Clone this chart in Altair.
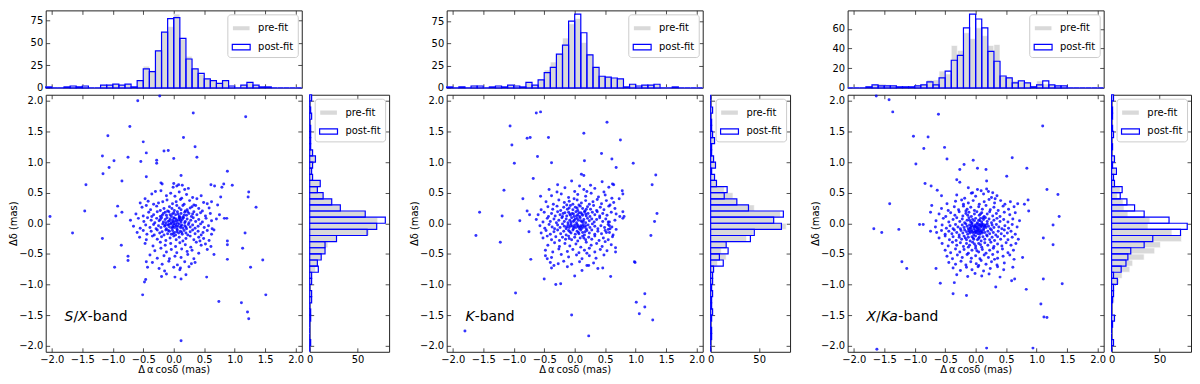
import altair as alt
import numpy as np
import pandas as pd

FONT = "DejaVu Sans"
BLUE = "#0000ff"
GRAY = "#d9d9d9"

# ---------------- histogram bins (0.1 mas wide, -2.1 .. 2.1) ----------------
BIN_LO = -2.1
BIN_W = 0.1
N_BINS = 42

# ---------------- histogram counts ----------------
sx_top_post = [1, 0, 0, 1, 2, 1, 2, 0, 0, 3, 3, 4, 3, 4, 1, 8, 21, 18, 41, 62, 77,
               78, 55, 32, 21, 16, 10, 8, 5, 8, 2, 0, 3, 6, 3, 1, 1, 0, 0, 0, 0, 0]
sx_top_pre = [1, 0, 0, 1, 2, 1, 2, 0, 0, 3, 3, 4, 3, 4, 1, 8, 24, 19, 41, 62, 68,
              82, 54, 35, 21, 15, 10, 8, 5, 8, 2, 0, 3, 6, 3, 1, 1, 0, 0, 0, 0, 0]
sx_side_post = [0, 1, 0, 0, 0, 1, 1, 0, 2, 2, 0, 2, 2, 9, 8, 12, 16, 16, 28, 60, 70,
                79, 58, 32, 23, 14, 8, 11, 3, 2, 3, 6, 3, 1, 1, 1, 1, 0, 2, 1, 0, 2]
sx_side_pre = [0, 1, 0, 0, 0, 1, 1, 0, 2, 2, 0, 2, 2, 6, 8, 12, 16, 19, 28, 62, 70,
               71, 58, 32, 23, 14, 8, 11, 3, 2, 3, 6, 3, 1, 1, 1, 1, 0, 2, 1, 0, 2]

k_top_post = [1, 0, 1, 0, 2, 2, 0, 1, 2, 1, 3, 2, 1, 6, 3, 9, 17, 23, 38, 48, 75,
              83, 62, 37, 23, 13, 12, 11, 10, 1, 4, 2, 3, 3, 4, 0, 0, 1, 0, 0, 0, 0]
k_top_pre = [1, 0, 1, 0, 3, 2, 0, 1, 2, 1, 3, 2, 1, 6, 3, 9, 20, 29, 38, 56, 72,
             78, 51, 38, 23, 13, 12, 11, 10, 1, 4, 2, 3, 3, 4, 0, 0, 1, 0, 0, 0, 0]
k_side_post = [0, 0, 1, 1, 0, 1, 2, 1, 1, 2, 1, 2, 2, 3, 13, 9, 18, 16, 41, 45, 73,
               65, 75, 39, 27, 14, 17, 6, 4, 1, 5, 3, 1, 1, 4, 2, 1, 1, 0, 2, 0, 0]
k_side_pre = [0, 0, 1, 1, 0, 1, 2, 1, 1, 2, 1, 2, 2, 3, 7, 16, 11, 16, 37, 44, 78,
              65, 72, 45, 27, 23, 14, 6, 4, 1, 5, 3, 1, 1, 4, 2, 1, 1, 0, 2, 0, 0]

xka_top_post = [0, 0, 0, 1, 3, 2, 2, 2, 1, 1, 1, 2, 3, 6, 3, 10, 17, 28, 33, 61, 75,
                70, 61, 37, 27, 12, 10, 5, 7, 5, 1, 3, 7, 3, 2, 2, 0, 0, 0, 0, 0, 0]
xka_top_pre = [0, 0, 0, 1, 3, 4, 3, 2, 1, 1, 1, 2, 4, 8, 8, 17, 14, 43, 38, 56, 50,
               61, 53, 43, 44, 12, 11, 7, 6, 5, 2, 7, 4, 3, 2, 1, 0, 0, 0, 0, 0, 0]
xka_side_post = [0, 2, 0, 0, 1, 3, 0, 0, 1, 2, 2, 6, 2, 10, 15, 17, 20, 34, 43, 72, 79,
                 60, 34, 24, 16, 9, 11, 3, 2, 5, 1, 3, 0, 1, 0, 2, 1, 0, 1, 1, 0, 2]
xka_side_pre = [0, 2, 0, 0, 1, 3, 0, 0, 3, 3, 3, 8, 11, 19, 22, 34, 45, 51, 73, 63, 38,
                40, 17, 13, 12, 6, 9, 3, 2, 4, 1, 3, 0, 1, 0, 2, 1, 0, 1, 1, 0, 2]

# ---------------- scatter points (post-fit offsets, mas) ----------------
sx_xy = [
    (-0.23, 2.08), (-0.59, 2.0), (0.32, 1.80), (1.18, 1.74), (-1.08, 1.43), (-0.72, 1.58), (0.16, 1.40),
    (-0.50, 1.33), (0.35, 1.25), (-0.45, 1.15), (-0.16, 1.18), (-0.09, 1.19), (0.0, 1.06), (0.38, 1.08),
    (-1.17, 1.10), (-0.98, 1.02), (-0.75, 1.08), (-0.54, 1.01), (-0.28, 1.03), (-0.28, 0.98), (-1.06, 0.91),
    (-1.16, 0.81), (-0.45, 0.76), (0.12, 0.78), (0.88, 0.85), (-1.44, 0.63), (-0.85, 0.69), (0.61, 0.63),
    (0.67, 0.61), (0.82, 0.64), (0.96, 0.62), (0.79, 0.59), (1.23, 0.51), (1.22, 0.43), (0.77, 0.43),
    (1.35, 0.26), (-0.92, 0.28), (-1.46, 0.20), (-0.85, 0.18), (-0.95, 0.12), (-2.03, 0.11), (-1.66, -0.16),
    (-1.17, -0.25), (-0.86, -0.36), (-0.75, -0.54), (-0.75, -0.61), (-0.97, -0.72), (-0.45, -0.63),
    (-0.43, -0.72), (-0.46, -0.92), (-0.48, -0.96), (-0.51, -1.17), (0.88, -0.29), (0.88, -0.35),
    (0.83, 0.08), (0.87, 0.08), (1.17, -0.16), (1.13, -0.41), (1.46, -0.60), (1.26, -0.72), (0.88, -0.59),
    (0.66, -0.51), (0.61, -0.38), (0.54, -0.88), (0.12, -0.91), (0.11, -0.73), (0.35, -0.64), (1.51, -1.17),
    (0.74, -1.28), (1.11, -1.30), (1.21, -1.45), (1.23, -1.56), (0.12, -1.92),
    (-0.21, 0.66), (0.0, 0.65), (0.08, 0.63), (0.14, 0.62), (-0.19, 0.64), (0.05, 0.61),
    (-0.01, 0.59), (-0.21, 0.53), (0.18, 0.55), (-0.30, 0.52), (0.09, 0.51), (0.24, 0.57),
    (-0.36, 0.48), (-0.12, 0.45), (0.02, 0.44), (0.21, 0.47), (0.31, 0.42), (0.45, 0.45), (-0.47, 0.40),
    (0.13, 0.41), (-0.05, 0.49), (0.38, 0.40),
    (-0.42, 0.36), (-0.25, 0.33), (-0.11, 0.38), (0.04, 0.35), (0.17, 0.31), (0.26, 0.37), (0.55, 0.32),
    (0.49, 0.34), (-0.33, 0.31), (-0.02, 0.32), (0.11, 0.39), (0.62, 0.35), (-0.18, 0.35), (0.33, 0.30),
    (0.72, 0.30), (-0.55, 0.33),
    (-0.52, 0.26), (-0.38, 0.22), (-0.28, 0.28), (-0.16, 0.24), (-0.07, 0.27), (0.01, 0.21), (0.09, 0.25),
    (0.15, 0.29), (0.22, 0.22), (0.3, 0.27), (0.41, 0.24), (0.47, 0.2), (-0.22, 0.21), (-0.1, 0.2),
    (0.05, 0.29), (0.19, 0.2), (0.36, 0.29), (0.58, 0.25), (-0.45, 0.29), (-0.03, 0.24), (0.12, 0.22),
    (0.27, 0.25),
    (-0.62, 0.15), (-0.5, 0.12), (-0.41, 0.18), (-0.33, 0.14), (-0.27, 0.19), (-0.22, 0.11), (-0.17, 0.16),
    (-0.12, 0.13), (-0.08, 0.19), (-0.04, 0.11), (0.0, 0.17), (0.03, 0.14), (0.06, 0.19), (0.09, 0.12),
    (0.12, 0.16), (0.15, 0.1), (0.18, 0.18), (0.21, 0.13), (0.25, 0.16), (0.29, 0.11), (0.33, 0.19),
    (0.38, 0.14), (0.44, 0.17), (0.52, 0.12), (0.6, 0.16), (0.75, 0.14), (-0.14, 0.18), (-0.02, 0.15),
    (0.07, 0.15), (0.1, 0.1), (-0.06, 0.14), (-0.19, 0.13), (0.23, 0.19), (0.17, 0.13), (-0.36, 0.11),
    (0.31, 0.15),
    (-0.71, 0.05), (-0.58, 0.08), (-0.49, 0.03), (-0.43, 0.09), (-0.37, 0.05), (-0.31, 0.01), (-0.28, 0.08),
    (-0.24, 0.04), (-0.2, 0.09), (-0.17, 0.02), (-0.14, 0.06), (-0.11, 0.09), (-0.09, 0.03), (-0.06, 0.07),
    (-0.04, 0.01), (-0.02, 0.05), (0.0, 0.09), (0.02, 0.03), (0.04, 0.07), (0.06, 0.0), (0.08, 0.05),
    (0.1, 0.08), (0.12, 0.02), (0.14, 0.06), (0.16, 0.09), (0.19, 0.03), (0.22, 0.07), (0.25, 0.01),
    (0.28, 0.05), (0.32, 0.09), (0.36, 0.03), (0.41, 0.06), (0.47, 0.02), (0.53, 0.08), (0.62, 0.04),
    (0.7, 0.07), (-0.13, 0.01), (0.01, 0.08), (-0.07, 0.04), (0.05, 0.04), (0.11, 0.05), (-0.22, 0.06),
    (0.18, 0.01), (-0.01, 0.02), (0.09, 0.09),
    (-0.66, -0.05), (-0.55, -0.08), (-0.46, -0.03), (-0.39, -0.07), (-0.33, -0.02), (-0.29, -0.09),
    (-0.25, -0.04), (-0.21, -0.07), (-0.18, -0.01), (-0.15, -0.05), (-0.12, -0.09), (-0.1, -0.03),
    (-0.07, -0.06), (-0.05, -0.01), (-0.03, -0.08), (-0.01, -0.04), (0.01, -0.07), (0.03, -0.02),
    (0.05, -0.09), (0.07, -0.05), (0.09, -0.01), (0.11, -0.07), (0.13, -0.03), (0.15, -0.08), (0.18, -0.04),
    (0.21, -0.09), (0.24, -0.02), (0.27, -0.06), (0.31, -0.03), (0.35, -0.08), (0.4, -0.05), (0.44, -0.01),
    (0.5, -0.07), (0.57, -0.04), (0.63, -0.09), (-0.08, -0.02), (0.04, -0.05), (-0.02, -0.06), (0.12, -0.05),
    (-0.14, -0.03), (0.2, -0.06), (0.0, -0.01),
    (-0.6, -0.15), (-0.5, -0.12), (-0.44, -0.18), (-0.37, -0.13), (-0.32, -0.19), (-0.27, -0.11),
    (-0.23, -0.16), (-0.19, -0.14), (-0.16, -0.19), (-0.13, -0.11), (-0.1, -0.17), (-0.07, -0.13),
    (-0.04, -0.18), (-0.02, -0.12), (0.01, -0.15), (0.03, -0.19), (0.06, -0.11), (0.08, -0.16), (0.11, -0.13),
    (0.14, -0.18), (0.17, -0.12), (0.2, -0.16), (0.23, -0.19), (0.27, -0.14), (0.31, -0.11), (0.35, -0.17),
    (0.4, -0.13), (0.45, -0.19), (0.48, -0.15), (0.55, -0.12), (0.62, -0.18), (-0.09, -0.12), (0.05, -0.14),
    (-0.01, -0.17), (0.13, -0.15), (0.66, -0.11),
    (-0.56, -0.23), (-0.45, -0.27), (-0.35, -0.21), (-0.27, -0.26), (-0.2, -0.22), (-0.13, -0.28),
    (-0.06, -0.24), (0.0, -0.21), (0.04, -0.27), (0.09, -0.23), (0.15, -0.29), (0.2, -0.25), (0.27, -0.21),
    (0.33, -0.27), (0.41, -0.23), (0.49, -0.25), (0.58, -0.28), (0.43, -0.29),
    (-0.47, -0.33), (-0.34, -0.37), (-0.22, -0.31), (-0.14, -0.36), (-0.05, -0.33), (0.03, -0.38),
    (0.1, -0.32), (0.19, -0.35), (0.28, -0.39), (0.37, -0.31), (0.45, -0.36), (0.52, -0.34),
    (-0.31, -0.45), (-0.21, -0.41), (-0.12, -0.47), (-0.04, -0.43), (0.05, -0.48), (0.13, -0.42),
    (0.22, -0.46), (0.3, -0.44), (0.41, -0.49), (0.55, -0.43),
    (-0.39, -0.52), (-0.27, -0.57), (-0.16, -0.53), (-0.07, -0.58), (0.02, -0.54), (0.12, -0.56),
    (0.23, -0.51), (0.33, -0.58),
    (-0.35, -0.64), (-0.19, -0.67), (-0.08, -0.62), (0.06, -0.68), (0.18, -0.63), (0.29, -0.66),
    (-0.24, -0.74), (-0.15, -0.78), (0.0, -0.72), (0.1, -0.76), (0.25, -0.71),
    (-0.2, -0.87), (-0.12, -0.83), (0.02, -0.88), (0.2, -0.84),
]

k_xy = [
    (-0.63, 1.80), (-0.56, 1.82), (-1.06, 1.59), (0.53, 1.65), (0.15, 1.47), (0.75, 1.36), (-0.78, 1.39),
    (-0.73, 1.40), (-0.43, 1.40), (-1.03, 1.28), (-0.61, 1.09), (0.16, 1.02), (0.44, 1.14), (0.61, 1.05),
    (-0.99, 0.98), (-0.38, 0.99), (0.68, 0.91), (0.96, 0.98), (1.33, 0.79), (1.27, 0.63), (-0.68, 0.73),
    (0.11, 0.80), (0.15, 0.78), (-1.16, 0.54), (-0.85, 0.40), (-0.56, 0.44), (-1.56, 0.18), (-1.19, 0.12),
    (-0.78, 0.20), (-0.74, 0.14), (-0.90, 0.04), (-0.75, -0.14), (-1.62, -0.20), (-1.22, -0.31),
    (-0.72, -0.59), (-0.50, -0.91), (-0.31, -1.00), (-0.23, -0.99), (-0.97, -1.14), (-1.80, -1.76),
    (-0.05, -1.50), (0.23, -1.84), (0.59, -0.87), (0.46, -0.73), (0.23, -0.69), (0.0, -0.86), (0.98, -0.63),
    (0.99, -0.64), (1.01, -1.29), (1.06, -1.48), (1.15, -1.15), (1.15, -1.37), (1.28, -1.58), (1.25, -0.20),
    (1.31, 0.03), (1.35, 0.16), (0.79, 0.19), (0.81, 0.11), (0.79, 0.08), (0.74, 0.11), (0.78, 0.53),
    (0.79, 0.48), (0.73, 0.40), (0.64, 0.63), (0.67, -0.40), (0.67, -0.47), (0.55, 0.02), (0.57, -0.04),
    (0.58, -0.09), (0.52, -0.15),
    (-0.28, 0.63), (-0.05, 0.69), (0.08, 0.61), (0.26, 0.62), (0.45, 0.68), (0.62, 0.64),
    (-0.42, 0.55), (-0.16, 0.58), (0.0, 0.52), (0.15, 0.55), (0.2, 0.52), (0.33, 0.57), (0.48, 0.51),
    (0.56, 0.59), (-0.29, 0.51),
    (-0.38, 0.45), (-0.22, 0.48), (-0.1, 0.42), (0.05, 0.47), (0.18, 0.44), (0.27, 0.49), (0.39, 0.43),
    (0.5, 0.46), (0.61, 0.41), (-0.01, 0.4),
    (-0.47, 0.35), (-0.35, 0.31), (-0.26, 0.38), (-0.17, 0.34), (-0.09, 0.36), (-0.03, 0.31), (0.04, 0.38),
    (0.11, 0.33), (0.18, 0.37), (0.24, 0.31), (0.3, 0.35), (0.37, 0.39), (0.44, 0.32), (0.52, 0.37),
    (0.64, 0.34), (-0.13, 0.3), (0.07, 0.3), (0.58, 0.3),
    (-0.55, 0.22), (-0.44, 0.27), (-0.36, 0.23), (-0.29, 0.28), (-0.23, 0.21), (-0.18, 0.26), (-0.12, 0.23),
    (-0.07, 0.29), (-0.03, 0.22), (0.01, 0.26), (0.05, 0.21), (0.09, 0.28), (0.13, 0.24), (0.17, 0.2),
    (0.21, 0.27), (0.26, 0.23), (0.31, 0.29), (0.36, 0.21), (0.42, 0.26), (0.48, 0.22), (0.56, 0.28),
    (0.66, 0.24), (-0.09, 0.25), (0.19, 0.23), (0.04, 0.25),
    (-0.6, 0.14), (-0.5, 0.18), (-0.43, 0.11), (-0.38, 0.16), (-0.32, 0.12), (-0.28, 0.19), (-0.24, 0.14),
    (-0.2, 0.11), (-0.16, 0.17), (-0.13, 0.12), (-0.1, 0.18), (-0.07, 0.13), (-0.04, 0.16), (-0.01, 0.11),
    (0.02, 0.19), (0.05, 0.14), (0.08, 0.11), (0.1, 0.17), (0.13, 0.13), (0.16, 0.19), (0.19, 0.12),
    (0.22, 0.16), (0.25, 0.11), (0.29, 0.18), (0.33, 0.14), (0.37, 0.19), (0.41, 0.12), (0.46, 0.16),
    (0.53, 0.13), (0.6, 0.18), (0.68, 0.15), (-0.02, 0.15), (0.07, 0.17), (0.12, 0.15), (-0.08, 0.15),
    (0.03, 0.12), (0.18, 0.15), (-0.19, 0.16),
    (-0.63, 0.06), (-0.52, 0.02), (-0.45, 0.08), (-0.4, 0.03), (-0.34, 0.07), (-0.3, 0.01), (-0.26, 0.05),
    (-0.21, 0.09), (-0.17, 0.03), (-0.14, 0.07), (-0.11, 0.01), (-0.08, 0.05), (-0.05, 0.09), (-0.02, 0.03),
    (0.01, 0.07), (0.03, 0.01), (0.06, 0.05), (0.09, 0.09), (0.12, 0.02), (0.15, 0.06), (0.18, 0.01),
    (0.21, 0.08), (0.24, 0.04), (0.28, 0.07), (0.32, 0.02), (0.36, 0.06), (0.41, 0.09), (0.46, 0.03),
    (0.51, 0.07), (0.57, 0.02), (0.66, 0.05), (-0.06, 0.02), (0.04, 0.08), (0.1, 0.04), (-0.01, 0.05),
    (0.14, 0.03),
    (-0.57, -0.04), (-0.49, -0.08), (-0.42, -0.02), (-0.37, -0.06), (-0.33, -0.09), (-0.28, -0.03),
    (-0.24, -0.07), (-0.2, -0.01), (-0.17, -0.05), (-0.14, -0.09), (-0.11, -0.03), (-0.09, -0.07),
    (-0.06, -0.01), (-0.04, -0.05), (-0.02, -0.09), (0.0, -0.03), (0.02, -0.07), (0.04, -0.02), (0.06, -0.06),
    (0.08, -0.09), (0.1, -0.04), (0.12, -0.08), (0.14, -0.02), (0.16, -0.06), (0.19, -0.09), (0.22, -0.03),
    (0.25, -0.07), (0.29, -0.01), (0.33, -0.05), (0.38, -0.09), (0.43, -0.04), (0.49, -0.07), (0.55, -0.02),
    (0.61, -0.06), (0.68, -0.1), (-0.07, -0.04), (0.05, -0.04), (0.09, -0.06), (-0.01, -0.06), (0.13, -0.05),
    (-0.13, -0.06), (0.18, -0.04),
    (-0.55, -0.16), (-0.47, -0.12), (-0.4, -0.18), (-0.34, -0.14), (-0.28, -0.11), (-0.23, -0.17),
    (-0.18, -0.13), (-0.14, -0.19), (-0.1, -0.12), (-0.06, -0.16), (-0.03, -0.11), (0.01, -0.18),
    (0.04, -0.13), (0.07, -0.17), (0.1, -0.11), (0.13, -0.15), (0.16, -0.19), (0.2, -0.12), (0.24, -0.16),
    (0.28, -0.11), (0.33, -0.18), (0.38, -0.13), (0.44, -0.17), (0.5, -0.12), (0.57, -0.15), (0.63, -0.19),
    (0.55, -0.1), (-0.08, -0.14), (0.06, -0.15), (0.17, -0.14),
    (-0.52, -0.24), (-0.45, -0.21), (-0.38, -0.27), (-0.31, -0.22), (-0.25, -0.28), (-0.2, -0.23),
    (-0.15, -0.26), (-0.1, -0.21), (-0.05, -0.27), (0.0, -0.23), (0.05, -0.29), (0.09, -0.24), (0.13, -0.21),
    (0.18, -0.27), (0.23, -0.23), (0.28, -0.26), (0.33, -0.21), (0.4, -0.28), (0.47, -0.24), (0.55, -0.27),
    (0.62, -0.22), (0.5, -0.3), (-0.09, -0.25), (0.15, -0.24),
    (-0.44, -0.36), (-0.33, -0.32), (-0.25, -0.38), (-0.16, -0.33), (-0.08, -0.37), (0.02, -0.34),
    (0.1, -0.39), (0.19, -0.31), (0.27, -0.36), (0.36, -0.33), (0.45, -0.38), (0.6, -0.35),
    (-0.48, -0.44), (-0.36, -0.47), (-0.26, -0.42), (-0.12, -0.46), (-0.03, -0.43), (0.07, -0.48),
    (0.16, -0.44), (0.24, -0.41), (0.33, -0.47), (0.42, -0.43), (0.53, -0.45), (0.2, -0.49),
    (-0.48, -0.53), (-0.38, -0.56), (-0.22, -0.51), (-0.1, -0.55), (0.03, -0.52), (0.12, -0.58),
    (0.24, -0.53), (0.35, -0.57), (0.48, -0.52), (-0.45, -0.58),
    (-0.4, -0.64), (-0.27, -0.66), (-0.18, -0.62), (-0.05, -0.67), (0.08, -0.63), (0.2, -0.69),
    (0.31, -0.65), (-0.34, -0.69),
    (-0.38, -0.73), (0.38, -0.74), (0.12, -0.77), (-0.12, -0.71),
]

xka_xy = [
    (-1.63, 2.08), (-1.42, 2.02), (-1.36, 1.82), (-0.61, 1.78), (1.10, 1.59), (-1.02, 1.42), (-0.78, 1.41),
    (-0.85, 1.22), (-0.51, 1.24), (-0.47, 1.05), (0.60, 1.07), (-0.04, 1.03), (-0.19, 0.96), (0.03, 0.90),
    (0.17, 0.88), (-0.98, 0.97), (0.84, 0.90), (-0.26, 0.88), (0.51, 0.77), (-0.31, 0.71), (-0.26, 0.67),
    (-0.83, 0.65), (-0.73, 0.61), (0.18, 0.69), (1.17, 0.55), (1.35, 0.47), (-0.63, 0.54), (-0.56, 0.45),
    (-1.41, 0.32), (-0.72, 0.29), (-0.74, 0.18), (1.37, 0.11), (0.87, 0.20), (0.86, 0.38), (0.80, 0.31),
    (-1.67, -0.09), (-1.54, -0.15), (-1.26, -0.10), (-0.92, -0.02), (-0.86, -0.02), (-0.74, -0.13),
    (1.27, -0.03), (1.11, -0.24), (1.27, -0.35), (1.42, -0.99), (1.11, -0.91), (0.83, -1.08), (1.07, -1.32),
    (1.12, -1.53), (1.17, -1.54), (0.63, -0.59), (0.77, -0.56), (0.61, -0.72), (0.64, -0.91), (0.59, -0.94),
    (0.33, -1.04), (-1.21, -0.63), (-1.13, -0.74), (-0.65, -0.74), (-0.58, -0.98), (-0.35, -0.97),
    (-0.37, -1.15), (-0.15, -1.18), (-1.62, -2.06), (0.18, -2.04), (0.94, -2.04),
    (-0.05, 0.5), (0.09, 0.53), (0.18, 0.56), (0.21, 0.52), (-0.12, 0.58), (0.03, 0.55), (0.28, 0.5),
    (-0.31, 0.46), (-0.18, 0.41), (0.0, 0.44), (0.13, 0.48), (0.26, 0.42), (0.35, 0.45), (-0.07, 0.49),
    (0.32, 0.4),
    (-0.47, 0.32), (-0.33, 0.36), (-0.23, 0.38), (-0.12, 0.33), (-0.04, 0.37), (0.06, 0.31), (0.14, 0.35),
    (0.22, 0.39), (0.31, 0.33), (0.41, 0.37), (0.48, 0.31), (0.57, 0.35), (0.69, 0.32), (-0.2, 0.31),
    (-0.56, 0.24), (-0.45, 0.21), (-0.35, 0.27), (-0.28, 0.22), (-0.2, 0.28), (-0.14, 0.23), (-0.08, 0.26),
    (-0.02, 0.21), (0.05, 0.27), (0.11, 0.23), (0.17, 0.29), (0.24, 0.22), (0.3, 0.26), (0.37, 0.21),
    (0.45, 0.28), (0.54, 0.23), (0.63, 0.27), (-0.16, 0.2),
    (-0.6, 0.15), (-0.49, 0.11), (-0.41, 0.17), (-0.34, 0.13), (-0.27, 0.19), (-0.21, 0.12), (-0.16, 0.16),
    (-0.11, 0.18), (-0.07, 0.11), (-0.02, 0.15), (0.02, 0.19), (0.06, 0.13), (0.1, 0.17), (0.14, 0.11),
    (0.19, 0.15), (0.23, 0.19), (0.28, 0.12), (0.34, 0.16), (0.4, 0.11), (0.47, 0.18), (0.56, 0.14),
    (0.65, 0.17), (-0.13, 0.13), (0.08, 0.15),
    (-0.65, 0.04), (-0.53, 0.08), (-0.44, 0.02), (-0.37, 0.06), (-0.31, 0.09), (-0.26, 0.03), (-0.22, 0.07),
    (-0.18, 0.01), (-0.14, 0.05), (-0.11, 0.09), (-0.08, 0.02), (-0.05, 0.06), (-0.02, 0.04), (0.0, 0.08),
    (0.03, 0.01), (0.05, 0.05), (0.08, 0.08), (0.1, 0.02), (0.13, 0.06), (0.16, 0.09), (0.19, 0.03),
    (0.22, 0.07), (0.26, 0.01), (0.3, 0.05), (0.35, 0.08), (0.4, 0.03), (0.46, 0.06), (0.53, 0.02),
    (0.61, 0.07), (0.72, 0.04), (-0.06, 0.01), (0.07, 0.04), (-0.1, 0.05), (0.12, 0.09),
    (-0.66, -0.06), (-0.55, -0.03), (-0.48, -0.08), (-0.42, -0.04), (-0.37, -0.09), (-0.33, -0.02),
    (-0.29, -0.06), (-0.25, -0.09), (-0.22, -0.03), (-0.19, -0.07), (-0.16, -0.01), (-0.14, -0.05),
    (-0.12, -0.09), (-0.1, -0.03), (-0.08, -0.07), (-0.06, -0.01), (-0.04, -0.05), (-0.03, -0.09),
    (-0.01, -0.03), (0.01, -0.07), (0.02, -0.01), (0.04, -0.05), (0.05, -0.09), (0.07, -0.03), (0.08, -0.07),
    (0.1, -0.01), (0.11, -0.05), (0.13, -0.09), (0.15, -0.03), (0.17, -0.07), (0.19, -0.01), (0.21, -0.05),
    (0.24, -0.09), (0.27, -0.03), (0.3, -0.07), (0.34, -0.02), (0.38, -0.06), (0.43, -0.09), (0.48, -0.04),
    (0.54, -0.08), (0.6, -0.02), (0.68, -0.06), (0.0, -0.05), (0.06, -0.02), (-0.07, -0.04), (0.09, -0.04),
    (0.03, -0.08), (-0.02, -0.06), (0.12, -0.02), (0.14, -0.06), (-0.09, -0.08), (0.16, -0.04),
    (-0.64, -0.15), (-0.56, -0.12), (-0.5, -0.18), (-0.44, -0.13), (-0.39, -0.17), (-0.35, -0.11),
    (-0.31, -0.15), (-0.27, -0.19), (-0.24, -0.12), (-0.21, -0.16), (-0.18, -0.11), (-0.15, -0.14),
    (-0.13, -0.18), (-0.11, -0.12), (-0.09, -0.16), (-0.07, -0.11), (-0.05, -0.15), (-0.03, -0.19),
    (-0.01, -0.12), (0.01, -0.16), (0.03, -0.11), (0.05, -0.14), (0.07, -0.18), (0.09, -0.12), (0.11, -0.16),
    (0.13, -0.11), (0.15, -0.15), (0.18, -0.19), (0.2, -0.13), (0.23, -0.17), (0.26, -0.11), (0.29, -0.15),
    (0.33, -0.19), (0.37, -0.13), (0.42, -0.17), (0.47, -0.11), (0.52, -0.16), (0.58, -0.13), (0.65, -0.18),
    (0.0, -0.14), (0.04, -0.17), (-0.02, -0.15), (0.08, -0.15), (0.06, -0.12), (-0.06, -0.13), (0.1, -0.14),
    (-0.1, -0.14), (0.02, -0.13),
    (-0.6, -0.24), (-0.5, -0.21), (-0.43, -0.27), (-0.37, -0.22), (-0.32, -0.28), (-0.27, -0.23),
    (-0.23, -0.26), (-0.19, -0.21), (-0.15, -0.27), (-0.12, -0.23), (-0.09, -0.29), (-0.06, -0.22),
    (-0.03, -0.26), (0.0, -0.21), (0.03, -0.27), (0.06, -0.23), (0.09, -0.29), (0.12, -0.22), (0.15, -0.26),
    (0.19, -0.21), (0.23, -0.27), (0.27, -0.23), (0.31, -0.28), (0.36, -0.22), (0.41, -0.26), (0.47, -0.21),
    (0.53, -0.27), (0.6, -0.23), (0.7, -0.26), (-0.17, -0.24), (0.05, -0.25), (-0.04, -0.24),
    (-0.55, -0.33), (-0.45, -0.37), (-0.38, -0.31), (-0.31, -0.36), (-0.25, -0.32), (-0.2, -0.38),
    (-0.15, -0.33), (-0.1, -0.36), (-0.05, -0.31), (0.0, -0.37), (0.05, -0.33), (0.1, -0.39), (0.15, -0.32),
    (0.2, -0.36), (0.25, -0.31), (0.3, -0.38), (0.36, -0.34), (0.43, -0.37), (0.5, -0.32), (0.58, -0.36),
    (0.66, -0.33), (-0.12, -0.39), (0.08, -0.35), (-0.02, -0.34),
    (-0.5, -0.44), (-0.41, -0.48), (-0.33, -0.42), (-0.26, -0.47), (-0.19, -0.43), (-0.12, -0.49),
    (-0.06, -0.44), (0.0, -0.41), (0.05, -0.47), (0.11, -0.43), (0.17, -0.49), (0.23, -0.44), (0.29, -0.41),
    (0.36, -0.47), (0.44, -0.42), (0.53, -0.48), (0.62, -0.44), (0.02, -0.45),
    (-0.47, -0.54), (-0.38, -0.58), (-0.3, -0.52), (-0.22, -0.56), (-0.14, -0.51), (-0.07, -0.57),
    (0.0, -0.53), (0.07, -0.58), (0.14, -0.52), (0.21, -0.56), (0.28, -0.51), (0.36, -0.57), (0.45, -0.54),
    (0.56, -0.52), (0.31, -0.59),
    (-0.44, -0.64), (-0.33, -0.67), (-0.24, -0.62), (-0.16, -0.68), (-0.08, -0.63), (0.01, -0.66),
    (0.09, -0.61), (0.17, -0.67), (0.26, -0.63), (0.35, -0.68), (0.47, -0.65), (0.05, -0.69),
    (-0.37, -0.73), (-0.25, -0.77), (-0.15, -0.72), (-0.06, -0.76), (0.04, -0.71), (0.13, -0.78),
    (0.24, -0.74), (0.36, -0.71), (0.46, -0.76),
    (-0.31, -0.84), (-0.13, -0.87), (-0.01, -0.82), (0.1, -0.86), (0.22, -0.83), (0.4, -0.88),
]

# ---------------- axis ticks & labels ----------------
AX_DOM = [-2.1, 2.1]
POS_TICKS = [-2.0, -1.5, -1.0, -0.5, 0.0, 0.5, 1.0, 1.5, 2.0]
SX_COUNT_TICKS = [0, 25, 50, 75]
K_COUNT_TICKS = [0, 25, 50, 75]
XKA_COUNT_TICKS = [0, 20, 40, 60]
SIDE_COUNT_TICKS = [0, 50]
X_TITLE = "Δ\u2009α\u2009cosδ (mas)"
Y_TITLE = "Δδ (mas)"
SERIES = ["pre-fit", "post-fit"]

# band label: (text piece, font style, horizontal offset in px)
SX_LABEL = [("S", "italic", 0.0), ("/", "normal", 8.9), ("X", "italic", 13.6), ("-band", "normal", 23.2)]
K_LABEL = [("K", "italic", 0.0), ("-band", "normal", 9.2)]
XKA_LABEL = [("X", "italic", 0.0), ("/", "normal", 9.6), ("Ka", "italic", 14.3), ("-band", "normal", 32.1)]
LABEL_POS = (-1.79, -1.6)

# ---------------- sizes ----------------
SC_W, SC_H = 258, 259
TOP_H = 78
SIDE_W = 80
GAP_W = 42

fill_scale = alt.Scale(domain=SERIES, range=[GRAY, "transparent"])
stroke_scale = alt.Scale(domain=SERIES, range=["white", BLUE])
leg = alt.Legend(title=None)


def hist_df(pre, post):
    lo = BIN_LO + BIN_W * np.arange(N_BINS)
    rows = []
    for s, counts in zip(SERIES, (pre, post)):
        for l, c in zip(lo, counts):
            rows.append({"lo": round(float(l), 2), "hi": round(float(l) + BIN_W, 2),
                         "count": c, "zero": 0, "series": s})
    return pd.DataFrame(rows)


def tick_axis(orient, values):
    return alt.Axis(orient=orient, values=values, labels=False, title=None)


def tick_layer(df, x, y):
    # invisible marks that only carry the inward ticks of the top and right frame sides
    return alt.Chart(df).mark_point(size=0, opacity=0, strokeWidth=0).encode(x=x, y=y)


def top_hist(pre, post, yticks):
    df = hist_df(pre, post)
    ymax = max(max(pre), max(post)) * 1.05
    xs = alt.Scale(domain=AX_DOM, nice=False, zero=False)
    ys = alt.Scale(domain=[0, ymax], nice=False)
    base = alt.Chart(df)
    enc = dict(
        x=alt.X("lo:Q", scale=xs, axis=alt.Axis(values=POS_TICKS, labels=False, title=None)),
        x2="hi:Q",
        y=alt.Y("count:Q", scale=ys, axis=alt.Axis(values=yticks, format="d", title=None)),
        y2="zero:Q",
        fill=alt.Fill("series:N", scale=fill_scale, legend=leg),
        stroke=alt.Stroke("series:N", scale=stroke_scale, legend=leg),
    )
    pre_l = base.transform_filter(alt.datum.series == "pre-fit").mark_rect(strokeWidth=0.6).encode(**enc)
    post_l = base.transform_filter(alt.datum.series == "post-fit").mark_rect(strokeWidth=1.2).encode(**enc)
    tk = tick_layer(df,
                    alt.X("lo:Q", scale=xs, axis=tick_axis("top", POS_TICKS)),
                    alt.Y("zero:Q", scale=ys, axis=tick_axis("right", yticks)))
    return (alt.layer(alt.layer(pre_l, post_l), tk)
            .resolve_scale(x="independent", y="independent")
            .properties(width=SC_W, height=TOP_H))


def side_hist(pre, post):
    df = hist_df(pre, post)
    xmax = max(max(pre), max(post)) * 1.05
    xs = alt.Scale(domain=[0, xmax], nice=False)
    ys = alt.Scale(domain=AX_DOM, nice=False, zero=False)
    base = alt.Chart(df)
    enc = dict(
        y=alt.Y("lo:Q", scale=ys, axis=alt.Axis(values=POS_TICKS, labels=False, title=None)),
        y2="hi:Q",
        x=alt.X("count:Q", scale=xs, axis=alt.Axis(values=SIDE_COUNT_TICKS, format="d", title=None)),
        x2="zero:Q",
        fill=alt.Fill("series:N", scale=fill_scale, legend=leg),
        stroke=alt.Stroke("series:N", scale=stroke_scale, legend=leg),
    )
    pre_l = base.transform_filter(alt.datum.series == "pre-fit").mark_rect(strokeWidth=0.6).encode(**enc)
    post_l = base.transform_filter(alt.datum.series == "post-fit").mark_rect(strokeWidth=1.2).encode(**enc)
    tk = tick_layer(df,
                    alt.X("zero:Q", scale=xs, axis=tick_axis("top", SIDE_COUNT_TICKS)),
                    alt.Y("lo:Q", scale=ys, axis=tick_axis("right", POS_TICKS)))
    return (alt.layer(alt.layer(pre_l, post_l), tk)
            .resolve_scale(x="independent", y="independent")
            .properties(width=SIDE_W, height=SC_H))


def scatter(points, label):
    df = pd.DataFrame(points, columns=["x", "y"])
    xs = alt.Scale(domain=AX_DOM, nice=False, zero=False)
    ys = alt.Scale(domain=AX_DOM, nice=False, zero=False)
    xe = alt.X("x:Q", scale=xs, axis=alt.Axis(values=POS_TICKS, format=".1f", title=X_TITLE))
    ye = alt.Y("y:Q", scale=ys, axis=alt.Axis(values=POS_TICKS, format=".1f", title=Y_TITLE))
    pts = alt.Chart(df).mark_circle(size=9, color=BLUE, opacity=0.8).encode(x=xe, y=ye)
    layers = [pts]
    for txt, style, dx in label:
        ldf = pd.DataFrame({"x": [LABEL_POS[0]], "y": [LABEL_POS[1]], "t": [txt]})
        layers.append(alt.Chart(ldf).mark_text(
            align="left", baseline="alphabetic", font=FONT, fontSize=14, fontStyle=style,
            dx=dx, color="black").encode(x=xe, y=ye, text="t:N"))
    tk = tick_layer(df,
                    alt.X("x:Q", scale=xs, axis=tick_axis("top", POS_TICKS)),
                    alt.Y("y:Q", scale=ys, axis=tick_axis("right", POS_TICKS)))
    return (alt.layer(alt.layer(*layers), tk)
            .resolve_scale(x="independent", y="independent")
            .properties(width=SC_W, height=SC_H))


def blank(w, h):
    return alt.Chart(pd.DataFrame({"v": [0]})).mark_point(size=0, opacity=0, strokeWidth=0).encode(
        x=alt.X("v:Q", axis=None), y=alt.Y("v:Q", axis=None)
    ).properties(width=w, height=h, view=alt.ViewBackground(stroke="transparent"))


row1 = [
    top_hist(sx_top_pre, sx_top_post, SX_COUNT_TICKS), blank(1, 1), blank(GAP_W, 1),
    top_hist(k_top_pre, k_top_post, K_COUNT_TICKS), blank(1, 1), blank(GAP_W, 1),
    top_hist(xka_top_pre, xka_top_post, XKA_COUNT_TICKS), blank(1, 1),
]
row2 = [
    scatter(sx_xy, SX_LABEL), side_hist(sx_side_pre, sx_side_post), blank(GAP_W, 1),
    scatter(k_xy, K_LABEL), side_hist(k_side_pre, k_side_post), blank(GAP_W, 1),
    scatter(xka_xy, XKA_LABEL), side_hist(xka_side_pre, xka_side_post),
]

chart = (
    alt.concat(*row1, *row2, columns=8, spacing={"row": 7, "column": 8},
               bounds="flush", align="each")
    .resolve_scale(fill="independent", stroke="independent")
    .resolve_legend(fill="independent", stroke="independent")
    .properties(padding={"left": 0, "top": 0, "right": 0, "bottom": 0}, background="white")
    .configure_view(stroke="#222222", strokeWidth=1)
    .configure_axis(
        labelFont=FONT, labelFontSize=10, labelColor="black", labelFlush=False, labelOverlap=False,
        titleFont=FONT, titleFontSize=10, titleFontWeight="normal", titleColor="black",
        grid=False, domain=False, tickColor="#222222", tickSize=4, tickWidth=0.8,
        offset=-4, labelPadding=3, titlePadding=0,
    )
    .configure_legend(
        orient="top-right", offset=4, padding=4, fillColor="white", strokeColor="#cccccc",
        cornerRadius=3, labelFont=FONT, labelFontSize=10, labelColor="black",
        symbolType="M-1,-0.3H1V0.3H-1Z", symbolSize=324, symbolStrokeWidth=1.2,
        rowPadding=3, labelOffset=7,
    )
)

chart.save("out.html", embed_options={"renderer": "svg", "actions": False})
